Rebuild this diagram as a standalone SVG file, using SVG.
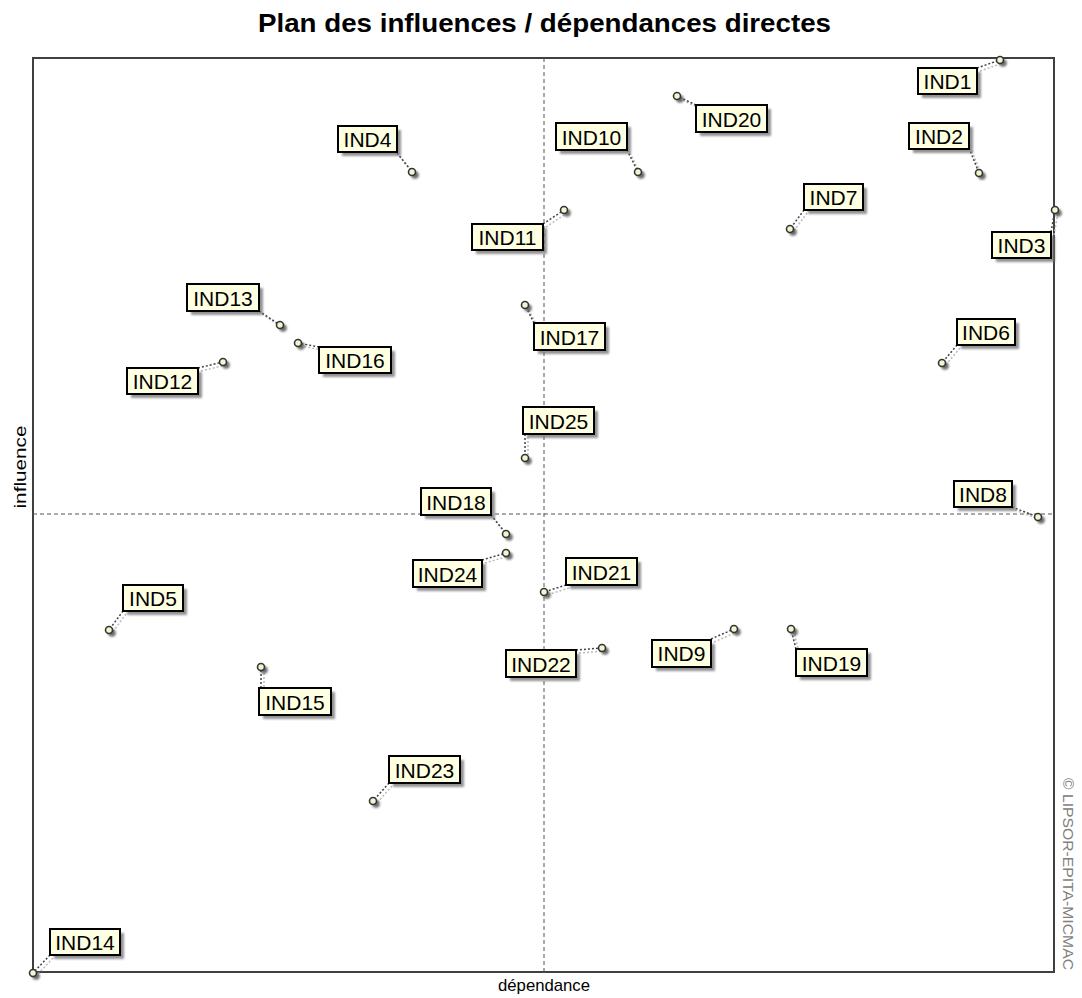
<svg xmlns="http://www.w3.org/2000/svg" width="1082" height="998" viewBox="0 0 1082 998">
<defs>
<filter id="blur" x="-30%" y="-30%" width="160%" height="160%"><feGaussianBlur stdDeviation="1.2"/></filter>
<style>
.title{font-family:"Liberation Sans",Arial,sans-serif;font-weight:bold;font-size:25px;fill:#000}
.axl{font-family:"Liberation Sans",Arial,sans-serif;font-size:17px;fill:#000}
.copy{font-family:"Liberation Sans",Arial,sans-serif;font-size:14px;fill:#808080}
.frame{fill:none;stroke:#404040;stroke-width:2}
.axis{stroke:#555;stroke-width:1;stroke-dasharray:4,3}
.box{fill:#FFFFE1;stroke:#000;stroke-width:2}
.bsh{fill:#707070;opacity:0.75;filter:url(#blur)}
.lbl{font-family:"Liberation Sans",Arial,sans-serif;font-size:21px;fill:#000;text-anchor:middle}
.pt{fill:#F4F4D0;stroke:#333;stroke-width:1.6}
.psh{fill:#555;opacity:0.85;filter:url(#blur)}
.cn{stroke:#444;stroke-width:1.5;stroke-dasharray:2,2;fill:none}
.cs{stroke:#bbb;stroke-width:1.5;stroke-dasharray:2,2;fill:none}
</style>
</defs>
<rect width="1082" height="998" fill="#fff"/>
<text class="title" x="544.5" y="32" text-anchor="middle" textLength="573" lengthAdjust="spacingAndGlyphs">Plan des influences / dépendances directes</text>
<rect class="frame" x="33" y="58" width="1021" height="914"/>
<line class="axis" x1="544" y1="58" x2="544" y2="972"/>
<line class="axis" x1="33" y1="514" x2="1054" y2="514"/>
<text class="axl" x="544" y="991" text-anchor="middle" textLength="92" lengthAdjust="spacingAndGlyphs">dépendance</text>
<text class="axl" transform="translate(26,467) rotate(-90)" x="0" y="0" text-anchor="middle" textLength="83" lengthAdjust="spacingAndGlyphs">influence</text>
<text class="copy" transform="translate(1063,778) rotate(90)" x="0" y="0" textLength="192" lengthAdjust="spacingAndGlyphs">© LIPSOR-EPITA-MICMAC</text>
<g id="connectors">
<line class="cs" x1="980" y1="71" x2="1003" y2="63"/><line class="cn" x1="977" y1="68" x2="1000" y2="60"/>
<line class="cs" x1="972" y1="151" x2="982" y2="176"/><line class="cn" x1="969" y1="148" x2="979" y2="173"/>
<line class="cs" x1="1054" y1="235" x2="1058" y2="213"/><line class="cn" x1="1051" y1="232" x2="1055" y2="210"/>
<line class="cs" x1="400" y1="156" x2="415" y2="175"/><line class="cn" x1="397" y1="153" x2="412" y2="172"/>
<line class="cs" x1="126" y1="614" x2="112" y2="633"/><line class="cn" x1="123" y1="611" x2="109" y2="630"/>
<line class="cs" x1="960" y1="348" x2="945" y2="366"/><line class="cn" x1="957" y1="345" x2="942" y2="363"/>
<line class="cs" x1="807" y1="213" x2="793" y2="232"/><line class="cn" x1="804" y1="210" x2="790" y2="229"/>
<line class="cs" x1="1015" y1="510" x2="1041" y2="520"/><line class="cn" x1="1012" y1="507" x2="1038" y2="517"/>
<line class="cs" x1="714" y1="642" x2="737" y2="632"/><line class="cn" x1="711" y1="639" x2="734" y2="629"/>
<line class="cs" x1="630" y1="153" x2="641" y2="175"/><line class="cn" x1="627" y1="150" x2="638" y2="172"/>
<line class="cs" x1="546" y1="227" x2="567" y2="213"/><line class="cn" x1="543" y1="224" x2="564" y2="210"/>
<line class="cs" x1="201" y1="371" x2="226" y2="365"/><line class="cn" x1="198" y1="368" x2="223" y2="362"/>
<line class="cs" x1="262" y1="314" x2="283" y2="328"/><line class="cn" x1="259" y1="311" x2="280" y2="325"/>
<line class="cs" x1="53" y1="958" x2="36" y2="976"/><line class="cn" x1="50" y1="955" x2="33" y2="973"/>
<line class="cs" x1="264" y1="691" x2="264" y2="670"/><line class="cn" x1="261" y1="688" x2="261" y2="667"/>
<line class="cs" x1="322" y1="350" x2="301" y2="346"/><line class="cn" x1="319" y1="347" x2="298" y2="343"/>
<line class="cs" x1="537" y1="326" x2="528" y2="308"/><line class="cn" x1="534" y1="323" x2="525" y2="305"/>
<line class="cs" x1="494" y1="518" x2="509" y2="537"/><line class="cn" x1="491" y1="515" x2="506" y2="534"/>
<line class="cs" x1="799" y1="652" x2="794" y2="632"/><line class="cn" x1="796" y1="649" x2="791" y2="629"/>
<line class="cs" x1="699" y1="108" x2="680" y2="99"/><line class="cn" x1="696" y1="105" x2="677" y2="96"/>
<line class="cs" x1="569" y1="588" x2="547" y2="595"/><line class="cn" x1="566" y1="585" x2="544" y2="592"/>
<line class="cs" x1="579" y1="653" x2="605" y2="651"/><line class="cn" x1="576" y1="650" x2="602" y2="648"/>
<line class="cs" x1="392" y1="786" x2="376" y2="804"/><line class="cn" x1="389" y1="783" x2="373" y2="801"/>
<line class="cs" x1="485" y1="563" x2="509" y2="556"/><line class="cn" x1="482" y1="560" x2="506" y2="553"/>
<line class="cs" x1="528" y1="437" x2="528" y2="461"/><line class="cn" x1="525" y1="434" x2="525" y2="458"/>
</g>
<g id="IND1"><circle class="psh" cx="1003" cy="63" r="3.8"/><circle class="pt" cx="1000" cy="60" r="3.5"/><rect class="bsh" x="922" y="72" width="59" height="26"/><rect class="box" x="918" y="68" width="59" height="26"/><text class="lbl" x="947.5" y="89">IND1</text></g>
<g id="IND2"><circle class="psh" cx="982" cy="176" r="3.8"/><circle class="pt" cx="979" cy="173" r="3.5"/><rect class="bsh" x="913" y="127" width="60" height="26"/><rect class="box" x="909" y="123" width="60" height="26"/><text class="lbl" x="939" y="144">IND2</text></g>
<g id="IND3"><circle class="psh" cx="1058" cy="213" r="3.8"/><circle class="pt" cx="1055" cy="210" r="3.5"/><rect class="bsh" x="996" y="236" width="59" height="26"/><rect class="box" x="992" y="232" width="59" height="26"/><text class="lbl" x="1021.5" y="253">IND3</text></g>
<g id="IND4"><circle class="psh" cx="415" cy="175" r="3.8"/><circle class="pt" cx="412" cy="172" r="3.5"/><rect class="bsh" x="342" y="130" width="59" height="26"/><rect class="box" x="338" y="126" width="59" height="26"/><text class="lbl" x="367.5" y="147">IND4</text></g>
<g id="IND5"><circle class="psh" cx="112" cy="633" r="3.8"/><circle class="pt" cx="109" cy="630" r="3.5"/><rect class="bsh" x="127" y="589" width="60" height="26"/><rect class="box" x="123" y="585" width="60" height="26"/><text class="lbl" x="153" y="606">IND5</text></g>
<g id="IND6"><circle class="psh" cx="945" cy="366" r="3.8"/><circle class="pt" cx="942" cy="363" r="3.5"/><rect class="bsh" x="961" y="323" width="58" height="26"/><rect class="box" x="957" y="319" width="58" height="26"/><text class="lbl" x="986" y="340">IND6</text></g>
<g id="IND7"><circle class="psh" cx="793" cy="232" r="3.8"/><circle class="pt" cx="790" cy="229" r="3.5"/><rect class="bsh" x="808" y="188" width="59" height="26"/><rect class="box" x="804" y="184" width="59" height="26"/><text class="lbl" x="833.5" y="205">IND7</text></g>
<g id="IND8"><circle class="psh" cx="1041" cy="520" r="3.8"/><circle class="pt" cx="1038" cy="517" r="3.5"/><rect class="bsh" x="958" y="485" width="58" height="26"/><rect class="box" x="954" y="481" width="58" height="26"/><text class="lbl" x="983" y="502">IND8</text></g>
<g id="IND9"><circle class="psh" cx="737" cy="632" r="3.8"/><circle class="pt" cx="734" cy="629" r="3.5"/><rect class="bsh" x="656" y="644" width="59" height="27"/><rect class="box" x="652" y="640" width="59" height="27"/><text class="lbl" x="681.5" y="661">IND9</text></g>
<g id="IND10"><circle class="psh" cx="641" cy="175" r="3.8"/><circle class="pt" cx="638" cy="172" r="3.5"/><rect class="bsh" x="560" y="127" width="71" height="27"/><rect class="box" x="556" y="123" width="71" height="27"/><text class="lbl" x="591.5" y="145">IND10</text></g>
<g id="IND11"><circle class="psh" cx="567" cy="213" r="3.8"/><circle class="pt" cx="564" cy="210" r="3.5"/><rect class="bsh" x="476" y="228" width="71" height="26"/><rect class="box" x="472" y="224" width="71" height="26"/><text class="lbl" x="507.5" y="245">IND11</text></g>
<g id="IND12"><circle class="psh" cx="226" cy="365" r="3.8"/><circle class="pt" cx="223" cy="362" r="3.5"/><rect class="bsh" x="131" y="372" width="71" height="26"/><rect class="box" x="127" y="368" width="71" height="26"/><text class="lbl" x="162.5" y="389">IND12</text></g>
<g id="IND13"><circle class="psh" cx="283" cy="328" r="3.8"/><circle class="pt" cx="280" cy="325" r="3.5"/><rect class="bsh" x="191" y="288" width="72" height="27"/><rect class="box" x="187" y="284" width="72" height="27"/><text class="lbl" x="223" y="306">IND13</text></g>
<g id="IND14"><circle class="psh" cx="36" cy="976" r="3.8"/><circle class="pt" cx="33" cy="973" r="3.5"/><rect class="bsh" x="54" y="933" width="70" height="26"/><rect class="box" x="50" y="929" width="70" height="26"/><text class="lbl" x="85" y="950">IND14</text></g>
<g id="IND15"><circle class="psh" cx="264" cy="670" r="3.8"/><circle class="pt" cx="261" cy="667" r="3.5"/><rect class="bsh" x="263" y="692" width="72" height="27"/><rect class="box" x="259" y="688" width="72" height="27"/><text class="lbl" x="295" y="710">IND15</text></g>
<g id="IND16"><circle class="psh" cx="301" cy="346" r="3.8"/><circle class="pt" cx="298" cy="343" r="3.5"/><rect class="bsh" x="323" y="351" width="72" height="26"/><rect class="box" x="319" y="347" width="72" height="26"/><text class="lbl" x="355" y="368">IND16</text></g>
<g id="IND17"><circle class="psh" cx="528" cy="308" r="3.8"/><circle class="pt" cx="525" cy="305" r="3.5"/><rect class="bsh" x="538" y="327" width="71" height="27"/><rect class="box" x="534" y="323" width="71" height="27"/><text class="lbl" x="569.5" y="345">IND17</text></g>
<g id="IND18"><circle class="psh" cx="509" cy="537" r="3.8"/><circle class="pt" cx="506" cy="534" r="3.5"/><rect class="bsh" x="425" y="492" width="70" height="27"/><rect class="box" x="421" y="488" width="70" height="27"/><text class="lbl" x="456" y="510">IND18</text></g>
<g id="IND19"><circle class="psh" cx="794" cy="632" r="3.8"/><circle class="pt" cx="791" cy="629" r="3.5"/><rect class="bsh" x="800" y="653" width="71" height="27"/><rect class="box" x="796" y="649" width="71" height="27"/><text class="lbl" x="831.5" y="671">IND19</text></g>
<g id="IND20"><circle class="psh" cx="680" cy="99" r="3.8"/><circle class="pt" cx="677" cy="96" r="3.5"/><rect class="bsh" x="700" y="109" width="71" height="27"/><rect class="box" x="696" y="105" width="71" height="27"/><text class="lbl" x="731.5" y="127">IND20</text></g>
<g id="IND21"><circle class="psh" cx="547" cy="595" r="3.8"/><circle class="pt" cx="544" cy="592" r="3.5"/><rect class="bsh" x="570" y="562" width="71" height="27"/><rect class="box" x="566" y="558" width="71" height="27"/><text class="lbl" x="601.5" y="580">IND21</text></g>
<g id="IND22"><circle class="psh" cx="605" cy="651" r="3.8"/><circle class="pt" cx="602" cy="648" r="3.5"/><rect class="bsh" x="510" y="654" width="70" height="27"/><rect class="box" x="506" y="650" width="70" height="27"/><text class="lbl" x="541" y="672">IND22</text></g>
<g id="IND23"><circle class="psh" cx="376" cy="804" r="3.8"/><circle class="pt" cx="373" cy="801" r="3.5"/><rect class="bsh" x="393" y="760" width="71" height="27"/><rect class="box" x="389" y="756" width="71" height="27"/><text class="lbl" x="424.5" y="778">IND23</text></g>
<g id="IND24"><circle class="psh" cx="509" cy="556" r="3.8"/><circle class="pt" cx="506" cy="553" r="3.5"/><rect class="bsh" x="417" y="564" width="69" height="27"/><rect class="box" x="413" y="560" width="69" height="27"/><text class="lbl" x="447.5" y="582">IND24</text></g>
<g id="IND25"><circle class="psh" cx="528" cy="461" r="3.8"/><circle class="pt" cx="525" cy="458" r="3.5"/><rect class="bsh" x="527" y="411" width="71" height="27"/><rect class="box" x="523" y="407" width="71" height="27"/><text class="lbl" x="558.5" y="429">IND25</text></g>
</svg>
